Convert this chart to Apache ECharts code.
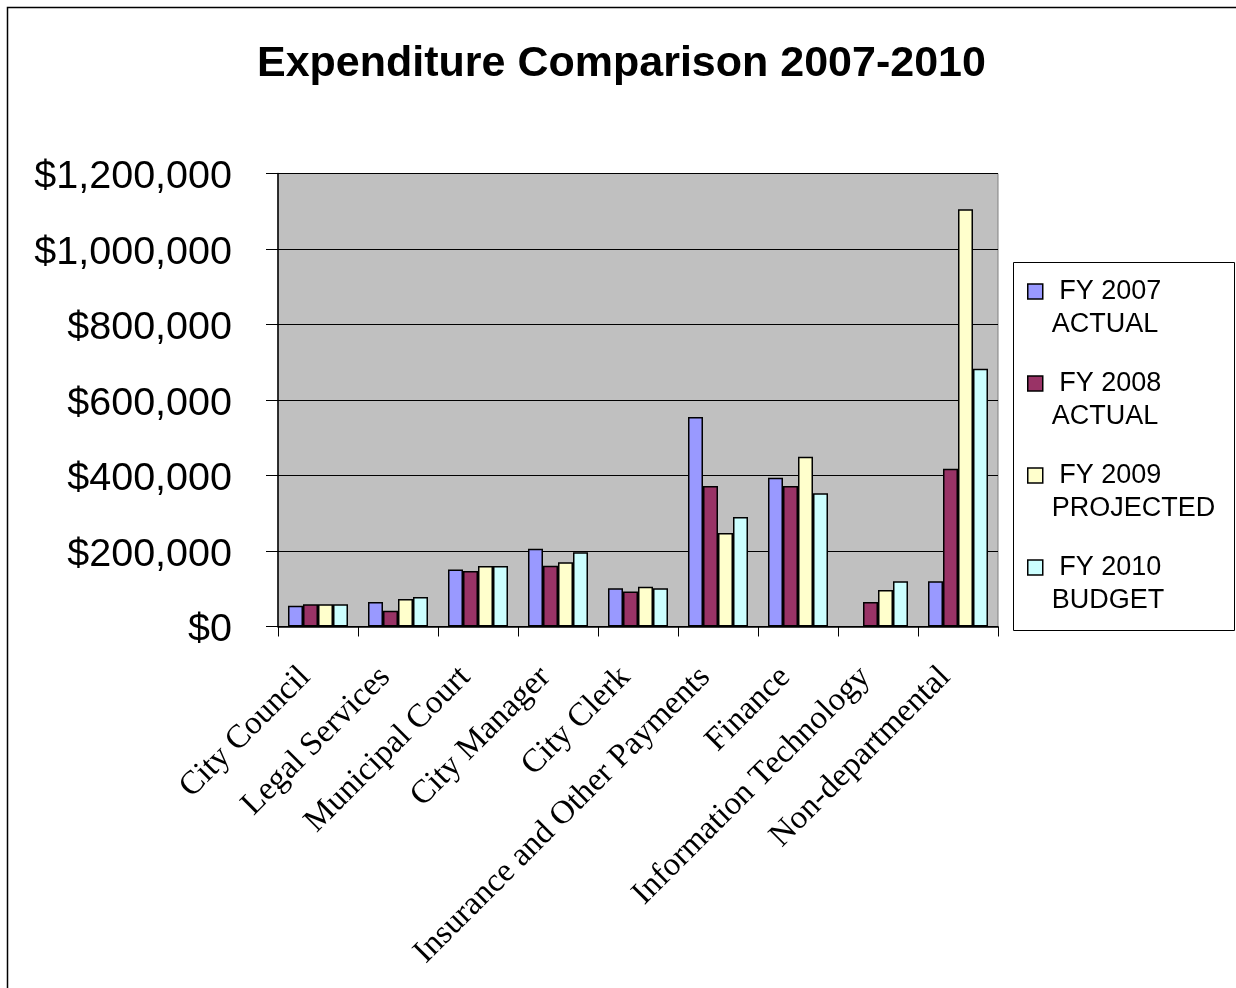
<!DOCTYPE html>
<html>
<head>
<meta charset="utf-8">
<script src="https://cdn.jsdelivr.net/npm/echarts@6/dist/echarts.min.js"></script>
<style>
html,body{margin:0;padding:0;background:#fff;}
#chart{width:1236px;height:988px;}
</style>
</head>
<body>
<div id="chart"></div>
<script>
const categories = ['City Council','Legal Services','Municipal Court','City Manager','City Clerk','Insurance and Other Payments','Finance','Information Technology','Non-departmental'];
const fy2007 = [55000, 65000, 151000, 206000, 101000, 555000, 394000, null, 120000];
const fy2008 = [59000, 42000, 147000, 161000, 93000, 372000, 372000, 65000, 418000];
const fy2009 = [59000, 73000, 160000, 170000, 105000, 248000, 450000, 97000, 1105000];
const fy2010 = [59000, 78000, 160000, 197000, 101000, 290000, 353000, 120000, 683000];
const seriesNames = ['FY 2007 ACTUAL', 'FY 2008 ACTUAL', 'FY 2009 PROJECTED', 'FY 2010 BUDGET'];
const seriesColors = ['#9999FF', '#993366', '#FFFFCC', '#CCFFFF'];
const seriesData = [fy2007, fy2008, fy2009, fy2010];

const chart = echarts.init(document.getElementById('chart'));
const fmt = v => '{v|$' + v.toLocaleString('en-US') + '}';
const legendFmt = name => {
  const parts = name.split(' ');
  return ' \n ' + parts[0] + ' ' + parts[1] + '\n' + parts.slice(2).join(' ');
};

chart.setOption({
  backgroundColor: '#fff',
  animation: false,
  title: {
    text: 'Expenditure Comparison 2007-2010',
    left: 252, top: 38,
    textStyle: {fontFamily: 'Liberation Sans, Arial', fontWeight: 'bold', fontSize: 43, color: '#000'}
  },
  graphic: [
    {type: 'rect', shape: {x: 7.5, y: 7.5, width: 1240, height: 1000}, style: {fill: 'none', stroke: '#000', lineWidth: 1.5}, z: 0},
    {type: 'rect', shape: {x: 1013.5, y: 262.5, width: 221, height: 368}, style: {fill: '#fff', stroke: '#000', lineWidth: 1}, z: 1}
  ],
  legend: {
    orient: 'vertical',
    left: 1027, top: 242,
    padding: 0,
    itemWidth: 15, itemHeight: 15,
    itemGap: -7,
    icon: 'rect',
    z: 5,
    formatter: legendFmt,
    itemStyle: {borderColor: '#000', borderWidth: 1.5},
    textStyle: {fontFamily: 'Liberation Sans, Arial', fontSize: 27, color: '#000', lineHeight: 33, padding: [0, 0, 0, 4]},
    data: seriesNames
  },
  grid: {left: 278, right: 238, top: 173.5, bottom: 361.5, show: true, backgroundColor: '#C0C0C0', borderColor: '#808080', borderWidth: 1},
  xAxis: {
    type: 'category',
    data: categories,
    axisLine: {lineStyle: {color: '#000', width: 1.5}},
    axisTick: {show: true, alignWithLabel: false, length: 10, lineStyle: {color: '#000'}},
    axisLabel: {rotate: 45, interval: 0, margin: 33, padding: [0, 18, 0, 0], fontFamily: 'Liberation Serif, Times New Roman', fontSize: 33, color: '#000'}
  },
  yAxis: {
    type: 'value',
    min: 0, max: 1200000, interval: 200000,
    axisLine: {show: true, lineStyle: {color: '#000', width: 1.5}},
    axisTick: {show: true, length: 12, lineStyle: {color: '#000'}},
    axisLabel: {
      formatter: fmt, margin: 46,
      rich: {v: {fontFamily: 'Liberation Sans, Arial', fontSize: 39.5, color: '#000', padding: [8, 0, 0, 0]}}
    },
    splitLine: {show: true, lineStyle: {color: '#000', width: 1}}
  },
  series: seriesData.map((d, i) => ({
    name: seriesNames[i],
    type: 'bar',
    data: d,
    barGap: '0%',
    barCategoryGap: '25%',
    itemStyle: {color: seriesColors[i], borderColor: '#000', borderWidth: 1.5}
  }))
});
</script>
</body>
</html>
